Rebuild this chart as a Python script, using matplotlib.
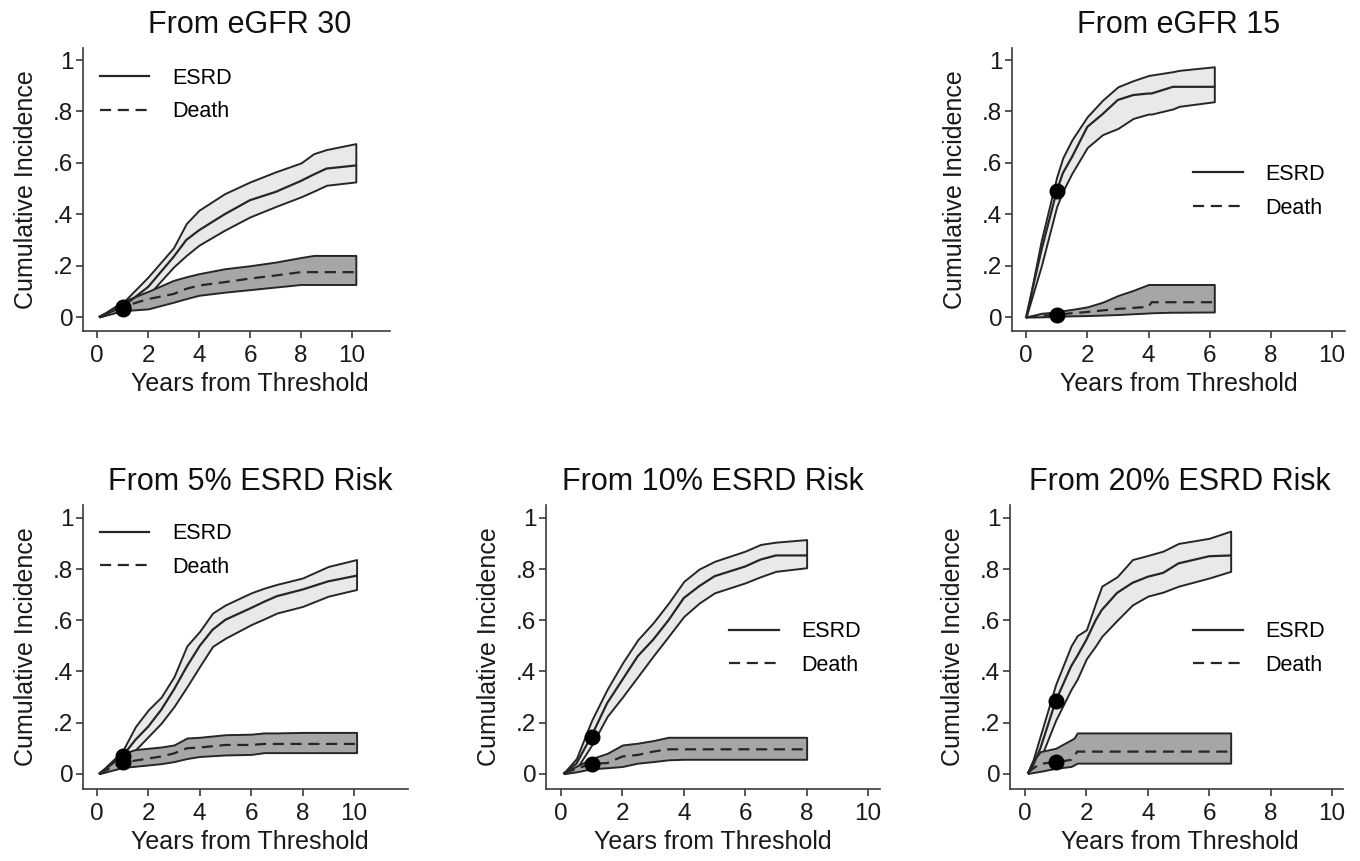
import matplotlib.pyplot as plt

plt.rcParams['font.family'] = ['Liberation Sans', 'DejaVu Sans']

# ================================ DATA ================================ #

titles = ['From eGFR 30', 'From eGFR 15', 'From 5% ESRD Risk',
          'From 10% ESRD Risk', 'From 20% ESRD Risk']

# From eGFR 30
t_30 = [0.1, 1, 2, 3, 3.5, 4, 5, 6, 7, 8, 8.5, 9, 10.15]
esrd_hi_30 = [0.003, 0.055, 0.156, 0.27, 0.364, 0.416, 0.48, 0.526, 0.565, 0.60, 0.636, 0.652, 0.675]
esrd_30 = [0.002, 0.04, 0.117, 0.234, 0.30, 0.338, 0.40, 0.455, 0.487, 0.53, 0.555, 0.578, 0.59]
esrd_lo_30 = [0.001, 0.03, 0.085, 0.195, 0.24, 0.28, 0.338, 0.39, 0.43, 0.468, 0.49, 0.513, 0.526]
death_hi_30 = [0.003, 0.06, 0.10, 0.143, 0.157, 0.169, 0.188, 0.20, 0.214, 0.232, 0.24, 0.24, 0.24]
death_30 = [0.002, 0.04, 0.07, 0.09, 0.11, 0.123, 0.136, 0.15, 0.162, 0.175, 0.175, 0.175, 0.175]
death_lo_30 = [0.001, 0.025, 0.032, 0.058, 0.072, 0.085, 0.097, 0.107, 0.117, 0.127, 0.127, 0.127, 0.127]

# From eGFR 15
t_15 = [0, 0.5, 1, 1.2, 1.5, 2, 2.5, 3, 3.5, 4, 4.1, 4.8, 5, 6.15]
esrd_hi_15 = [0, 0.30, 0.545, 0.62, 0.69, 0.78, 0.844, 0.896, 0.92, 0.94, 0.942, 0.955, 0.96, 0.974]
esrd_15 = [0, 0.26, 0.49, 0.56, 0.623, 0.74, 0.79, 0.845, 0.864, 0.87, 0.87, 0.896, 0.896, 0.896]
esrd_lo_15 = [0, 0.20, 0.43, 0.49, 0.56, 0.66, 0.71, 0.734, 0.773, 0.79, 0.79, 0.81, 0.82, 0.838]
death_hi_15 = [0, 0.015, 0.02, 0.025, 0.03, 0.04, 0.058, 0.084, 0.104, 0.127, 0.127, 0.127, 0.127, 0.127]
death_15 = [0, 0.005, 0.01, 0.012, 0.015, 0.02, 0.026, 0.032, 0.036, 0.04, 0.058, 0.058, 0.058, 0.058]
death_lo_15 = [0, 0.001, 0.003, 0.004, 0.005, 0.006, 0.008, 0.01, 0.013, 0.016, 0.017, 0.019, 0.019, 0.02]

# From 5% ESRD risk
t_5 = [0.1, 1, 1.5, 2, 2.5, 3, 3.5, 4, 4.5, 5, 6, 6.5, 7, 8, 9, 10.1]
esrd_hi_5 = [0.003, 0.09, 0.185, 0.25, 0.30, 0.38, 0.50, 0.557, 0.628, 0.66, 0.707, 0.725, 0.74, 0.765, 0.81, 0.837]
esrd_5 = [0.002, 0.07, 0.133, 0.185, 0.25, 0.33, 0.42, 0.50, 0.563, 0.602, 0.648, 0.672, 0.694, 0.72, 0.752, 0.774]
esrd_lo_5 = [0.001, 0.05, 0.094, 0.146, 0.198, 0.263, 0.34, 0.42, 0.498, 0.53, 0.583, 0.605, 0.628, 0.654, 0.694, 0.72]
death_hi_5 = [0.003, 0.08, 0.095, 0.10, 0.105, 0.113, 0.14, 0.143, 0.148, 0.153, 0.155, 0.16, 0.16, 0.162, 0.162, 0.162]
death_5 = [0.002, 0.045, 0.052, 0.06, 0.068, 0.08, 0.10, 0.103, 0.108, 0.113, 0.113, 0.117, 0.117, 0.117, 0.117, 0.117]
death_lo_5 = [0.001, 0.025, 0.03, 0.035, 0.04, 0.048, 0.06, 0.068, 0.071, 0.074, 0.076, 0.083, 0.083, 0.083, 0.083, 0.083]

# From 10% ESRD risk
t_10 = [0.1, 0.5, 1, 1.5, 2, 2.5, 3, 3.5, 4, 4.5, 5, 6, 6.5, 7, 8]
esrd_hi_10 = [0.005, 0.06, 0.21, 0.33, 0.433, 0.524, 0.59, 0.667, 0.752, 0.80, 0.83, 0.87, 0.896, 0.905, 0.915]
esrd_10 = [0.003, 0.04, 0.15, 0.276, 0.368, 0.46, 0.524, 0.60, 0.687, 0.733, 0.772, 0.81, 0.837, 0.853, 0.853]
esrd_lo_10 = [0.001, 0.02, 0.113, 0.224, 0.30, 0.38, 0.46, 0.537, 0.615, 0.667, 0.707, 0.746, 0.77, 0.791, 0.805]
death_hi_10 = [0.005, 0.03, 0.06, 0.08, 0.113, 0.12, 0.13, 0.143, 0.143, 0.143, 0.143, 0.143, 0.143, 0.143, 0.143]
death_10 = [0.003, 0.02, 0.04, 0.042, 0.068, 0.074, 0.087, 0.096, 0.096, 0.096, 0.096, 0.096, 0.096, 0.096, 0.096]
death_lo_10 = [0.001, 0.008, 0.02, 0.024, 0.029, 0.042, 0.048, 0.055, 0.057, 0.057, 0.057, 0.057, 0.057, 0.057, 0.057]

# From 20% ESRD risk
t_20 = [0.1, 0.25, 0.5, 1, 1.5, 1.6, 1.7, 2, 2.3, 2.5, 3, 3.5, 4, 4.5, 5, 6, 6.7]
esrd_hi_20 = [0.01, 0.05, 0.15, 0.35, 0.50, 0.52, 0.54, 0.563, 0.667, 0.733, 0.77, 0.837, 0.853, 0.87, 0.90, 0.92, 0.948]
esrd_20 = [0.005, 0.03, 0.10, 0.285, 0.42, 0.44, 0.46, 0.524, 0.60, 0.64, 0.707, 0.746, 0.77, 0.785, 0.822, 0.85, 0.853]
esrd_lo_20 = [0.002, 0.015, 0.06, 0.21, 0.33, 0.35, 0.37, 0.45, 0.50, 0.537, 0.60, 0.66, 0.694, 0.71, 0.733, 0.765, 0.791]
death_hi_20 = [0.01, 0.05, 0.087, 0.10, 0.133, 0.14, 0.16, 0.16, 0.16, 0.16, 0.16, 0.16, 0.16, 0.16, 0.16, 0.16, 0.16]
death_20 = [0.005, 0.02, 0.04, 0.045, 0.055, 0.068, 0.087, 0.087, 0.087, 0.087, 0.087, 0.087, 0.087, 0.087, 0.087, 0.087, 0.087]
death_lo_20 = [0.002, 0.005, 0.01, 0.022, 0.029, 0.035, 0.042, 0.042, 0.042, 0.042, 0.042, 0.042, 0.042, 0.042, 0.042, 0.042, 0.042]

# incidence at one year (dots)
dot_esrd = [0.04, 0.49, 0.07, 0.145, 0.285]
dot_death = [0.03, 0.01, 0.045, 0.04, 0.045]

x_ticks = [0, 2, 4, 6, 8, 10]
y_ticks = [0, 0.2, 0.4, 0.6, 0.8, 1]
y_ticklabels = ['0', '.2', '.4', '.6', '.8', '1']

# ============================== LAYOUT =============================== #

W, H = 1360, 861
# pixel boxes (left, right, top, bottom) for each panel
boxes = [(83, 390, 48, 331), (1012, 1345, 48, 331), (83, 408, 505, 789),
         (546, 880, 505, 789), (1010, 1343, 505, 789)]
xlims = [(-0.55, 11.49), (-0.46, 10.42), (-0.54, 12.1), (-0.49, 10.39), (-0.49, 10.36)]
ylims = [(-0.054, 1.047), (-0.054, 1.047), (-0.059, 1.05), (-0.059, 1.05), (-0.059, 1.05)]
title_x = [0.544, 0.5, 0.514, 0.5, 0.51]
legend_anchor = [(0.055, 0.93), (0.544, 0.59), (0.052, 0.935), (0.548, 0.59), (0.55, 0.59)]

LINE = '#262626'
AXIS = '#3a3a3a'
BAND_ESRD = '#e9e9e9'
BAND_DEATH = '#a6a6a6'


def draw_panel(ax, i, t, e, e_lo, e_hi, d, d_lo, d_hi):
    ax.fill_between(t, e_lo, e_hi, facecolor=BAND_ESRD, edgecolor=LINE, linewidth=1.4, zorder=1)
    ax.fill_between(t, d_lo, d_hi, facecolor=BAND_DEATH, edgecolor=LINE, linewidth=1.4, zorder=2)
    l1, = ax.plot(t, e, color=LINE, linewidth=1.6, zorder=3)
    l2, = ax.plot(t, d, color=LINE, linewidth=1.6, dashes=(5, 3), zorder=3)
    ax.plot([1, 1], [dot_esrd[i], dot_death[i]], 'o', color='black', markersize=10.5, linestyle='none', zorder=4)

    ax.set_xlim(xlims[i])
    ax.set_ylim(ylims[i])
    ax.set_xticks(x_ticks, [str(v) for v in x_ticks])
    ax.set_yticks(y_ticks, y_ticklabels)
    for side in ['top', 'right']:
        ax.spines[side].set_visible(False)
    for side in ['left', 'bottom']:
        ax.spines[side].set_color(AXIS)
        ax.spines[side].set_linewidth(1.2)
    ax.tick_params(axis='both', direction='out', length=5, width=1.2, color=AXIS,
                   labelsize=17.5, labelcolor='#1a1a1a')
    ax.tick_params(axis='x', pad=5)
    ax.tick_params(axis='y', pad=2)
    ax.set_title(titles[i], fontsize=22, x=title_x[i], pad=11, color='#111111')
    ax.set_xlabel('Years from Threshold', fontsize=18, x=title_x[i], labelpad=4, color='#1a1a1a')
    ax.set_ylabel('Cumulative Incidence', fontsize=18, labelpad=11, color='#1a1a1a')
    ax.legend([l1, l2], ['ESRD', 'Death'], loc='upper left', bbox_to_anchor=legend_anchor[i],
              frameon=False, fontsize=15.5, handlelength=2.3, handletextpad=1.05,
              labelspacing=0.58, borderpad=0, borderaxespad=0)


if __name__ == '__main__':
    fig = plt.figure(figsize=(W / 100, H / 100), dpi=100)
    panels = [
        (t_30, esrd_30, esrd_lo_30, esrd_hi_30, death_30, death_lo_30, death_hi_30),
        (t_15, esrd_15, esrd_lo_15, esrd_hi_15, death_15, death_lo_15, death_hi_15),
        (t_5, esrd_5, esrd_lo_5, esrd_hi_5, death_5, death_lo_5, death_hi_5),
        (t_10, esrd_10, esrd_lo_10, esrd_hi_10, death_10, death_lo_10, death_hi_10),
        (t_20, esrd_20, esrd_lo_20, esrd_hi_20, death_20, death_lo_20, death_hi_20),
    ]
    for i, (box, data) in enumerate(zip(boxes, panels)):
        left, right, top, bottom = box
        ax = fig.add_axes([left / W, 1 - bottom / H, (right - left) / W, (bottom - top) / H])
        draw_panel(ax, i, *data)
    fig.savefig('out.png', dpi=100)
